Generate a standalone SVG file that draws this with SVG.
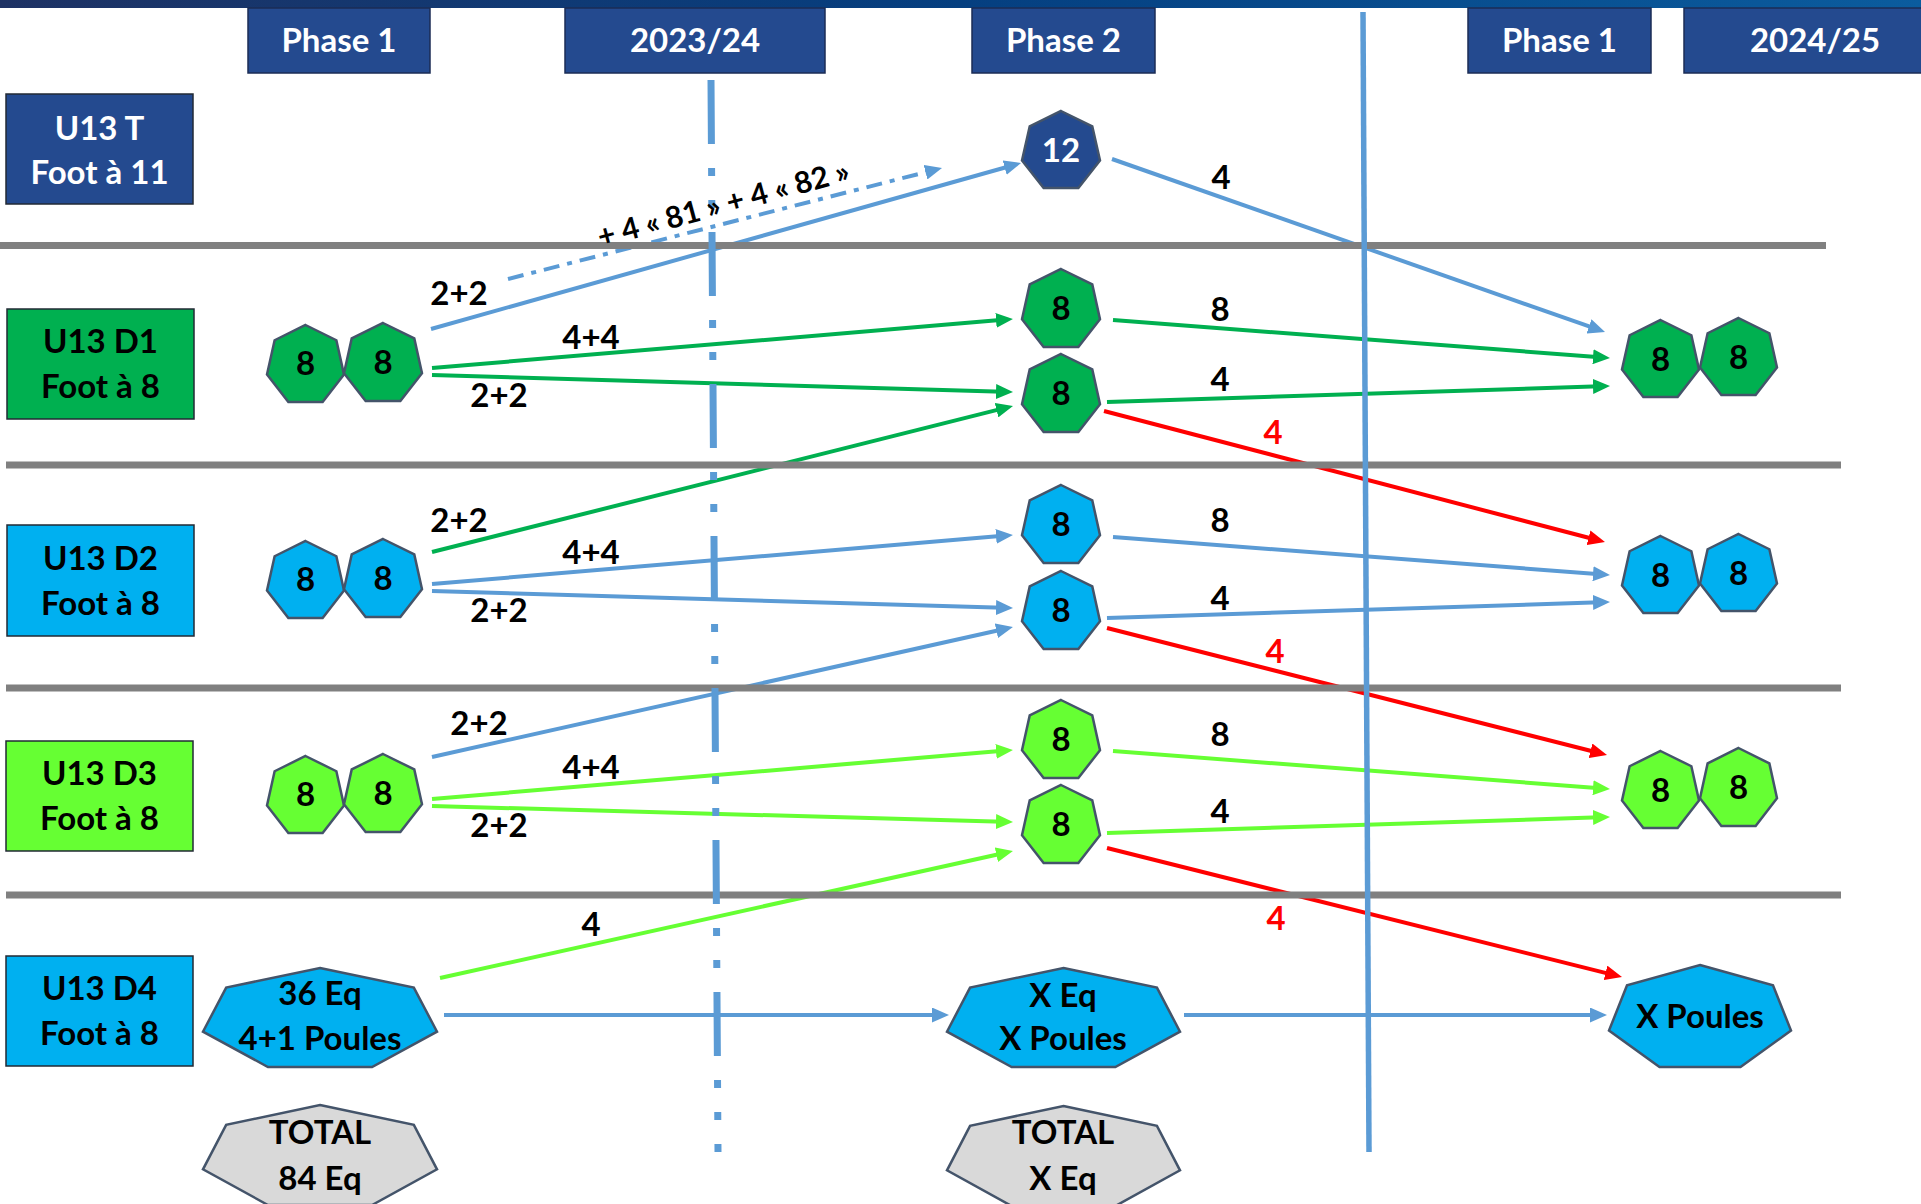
<svg xmlns="http://www.w3.org/2000/svg" xmlns:xlink="http://www.w3.org/1999/xlink" width="1921" height="1204" viewBox="0 0 1921 1204">
<defs>
  <linearGradient id="topbar" x1="0" y1="0" x2="1" y2="0">
    <stop offset="0" stop-color="#1E3264"/>
    <stop offset="0.5" stop-color="#053F80"/>
    <stop offset="1" stop-color="#0B5C9E"/>
  </linearGradient>
  <polygon id="hept" vector-effect="non-scaling-stroke" points="0.5,0 0.901,0.1981 1,0.6431 0.7225,1 0.2775,1 0,0.6431 0.099,0.1981"/>
  <marker id="ab" markerUnits="userSpaceOnUse" markerWidth="17" markerHeight="15" refX="7" refY="7.5" orient="auto"><path d="M0,0 L17,7.5 L0,15 z" fill="#5B9BD5"/></marker>
  <marker id="ag" markerUnits="userSpaceOnUse" markerWidth="17" markerHeight="15" refX="7" refY="7.5" orient="auto"><path d="M0,0 L17,7.5 L0,15 z" fill="#00B050"/></marker>
  <marker id="al" markerUnits="userSpaceOnUse" markerWidth="17" markerHeight="15" refX="7" refY="7.5" orient="auto"><path d="M0,0 L17,7.5 L0,15 z" fill="#66FF33"/></marker>
  <marker id="ar" markerUnits="userSpaceOnUse" markerWidth="17" markerHeight="15" refX="7" refY="7.5" orient="auto"><path d="M0,0 L17,7.5 L0,15 z" fill="#FF0000"/></marker>
</defs>
<style>
  .t{font-family:Lato,"Liberation Sans",sans-serif;font-weight:700;font-size:33px;text-anchor:middle;fill:#000}
  .w{fill:#FFFFFF}
  .red{fill:#FF0000}
  .rot{font-size:30px}
  .hdr{fill:#244A8F;stroke:#1B2D55;stroke-width:1.5}
  .lbl{stroke:#222A35;stroke-width:1.5}
  .sep{stroke:#808080;stroke-width:7}
  .hp{stroke:#44546A;stroke-width:2.5;stroke-linejoin:miter}
  .fdb{fill:#244A8F}
  .fg{fill:#00B050}
  .fb{fill:#00B0F0}
  .fl{fill:#66FF33}
  .fgr{fill:#D9D9D9}
  .cb{stroke:#5B9BD5;stroke-width:4;fill:none;marker-end:url(#ab)}
  .cg{stroke:#00B050;stroke-width:4;fill:none;marker-end:url(#ag)}
  .cl{stroke:#66FF33;stroke-width:4;fill:none;marker-end:url(#al)}
  .cr{stroke:#FF0000;stroke-width:4;fill:none;marker-end:url(#ar)}
  .dd{stroke-dasharray:16 8 5 8}
</style>
<rect x="0" y="0" width="1921" height="1204" fill="#FFFFFF"/>
<rect x="0" y="0" width="1921" height="8" fill="url(#topbar)"/>

<g id="headers">
  <g id="h-phase1a"><rect class="hdr" x="248" y="8" width="182" height="65"/><text class="t w" x="339" y="52">Phase 1</text></g>
  <g id="h-2023"><rect class="hdr" x="565" y="8" width="260" height="65"/><text class="t w" x="695" y="52">2023/24</text></g>
  <g id="h-phase2"><rect class="hdr" x="972" y="8" width="183" height="65"/><text class="t w" x="1063.5" y="52">Phase 2</text></g>
  <g id="h-phase1b"><rect class="hdr" x="1468" y="8" width="183" height="65"/><text class="t w" x="1559.5" y="52">Phase 1</text></g>
  <g id="h-2024"><rect class="hdr" x="1684" y="8" width="262" height="65"/><text class="t w" x="1815" y="52">2024/25</text></g>
</g>

<g id="connectors">
  <line class="cb" x1="431" y1="329" x2="1011.4" y2="165.7"/>
  <line class="cb dd" x1="508" y1="279" x2="932.3" y2="170.5"/>
  <line class="cb" x1="1112" y1="159" x2="1595.6" y2="328.7"/>
  <line class="cb" x1="432" y1="584" x2="1003" y2="535.8"/>
  <line class="cb" x1="432" y1="591" x2="1003" y2="607.7"/>
  <line class="cb" x1="432" y1="757" x2="1003.2" y2="629.2"/>
  <line class="cb" x1="1113" y1="537" x2="1600" y2="574.2"/>
  <line class="cb" x1="1107" y1="618" x2="1600" y2="602.3"/>
  <line class="cb" x1="444" y1="1015" x2="939" y2="1015"/>
  <line class="cb" x1="1184" y1="1015" x2="1597" y2="1015"/>
  <line class="cg" x1="432" y1="368" x2="1003" y2="319.8"/>
  <line class="cg" x1="432" y1="375" x2="1003" y2="391.7"/>
  <line class="cg" x1="432" y1="552" x2="1003.3" y2="408.4"/>
  <line class="cg" x1="1113" y1="320" x2="1600" y2="357.2"/>
  <line class="cg" x1="1107" y1="402" x2="1600" y2="386.3"/>
  <line class="cl" x1="432" y1="799" x2="1003" y2="750.8"/>
  <line class="cl" x1="432" y1="806" x2="1003" y2="821.7"/>
  <line class="cl" x1="440" y1="978" x2="1003.2" y2="853.2"/>
  <line class="cl" x1="1113" y1="751" x2="1600" y2="788.2"/>
  <line class="cl" x1="1107" y1="833" x2="1600" y2="817.3"/>
  <line class="cr" x1="1104" y1="411" x2="1595.3" y2="539.5"/>
  <line class="cr" x1="1107" y1="628" x2="1597.3" y2="752.5"/>
  <line class="cr" x1="1107" y1="848" x2="1612.3" y2="974.6"/>
</g>

<g id="separators">
  <line class="sep" x1="0" y1="245.5" x2="1826" y2="245.5"/>
  <line class="sep" x1="6" y1="465" x2="1841" y2="465"/>
  <line class="sep" x1="6" y1="688" x2="1841" y2="688"/>
  <line class="sep" x1="6" y1="895" x2="1841" y2="895"/>
</g>

<g id="timelines">
  <line x1="711" y1="80" x2="718" y2="1152" stroke="#5B9BD5" stroke-width="7" stroke-dasharray="64 24 8 24 8 24"/>
  <line x1="1363" y1="12" x2="1369" y2="1152" stroke="#5B9BD5" stroke-width="5.5"/>
</g>

<g id="connector-labels">
  <text class="t" x="459" y="305">2+2</text>
  <text class="t" x="591" y="349">4+4</text>
  <text class="t" x="499" y="407">2+2</text>
  <text class="t" x="459" y="532">2+2</text>
  <text class="t" x="591" y="564">4+4</text>
  <text class="t" x="499" y="622">2+2</text>
  <text class="t" x="479" y="735">2+2</text>
  <text class="t" x="591" y="779">4+4</text>
  <text class="t" x="499" y="837">2+2</text>
  <text class="t" x="591" y="936">4</text>
  <text class="t" x="1221" y="189">4</text>
  <text class="t" x="1220" y="321">8</text>
  <text class="t" x="1220" y="391">4</text>
  <text class="t red" x="1273" y="444">4</text>
  <text class="t" x="1220" y="532">8</text>
  <text class="t" x="1220" y="610">4</text>
  <text class="t red" x="1275" y="663">4</text>
  <text class="t" x="1220" y="746">8</text>
  <text class="t" x="1220" y="823">4</text>
  <text class="t red" x="1276" y="930">4</text>
  <text class="t rot" x="726" y="214" transform="rotate(-15 726 214)">+ 4 « 81 » + 4 «  82 »</text>
</g>

<g id="row-labels">
  <g id="lbl-t"><rect class="lbl" x="6" y="94" width="187" height="110" fill="#244A8F"/><text class="t w" x="99.5" y="140">U13 T</text><text class="t w" x="99.5" y="184">Foot à 11</text></g>
  <g id="lbl-d1"><rect class="lbl fg" x="7" y="309" width="187" height="110"/><text class="t" x="100.5" y="353">U13 D1</text><text class="t" x="100.5" y="398">Foot à 8</text></g>
  <g id="lbl-d2"><rect class="lbl fb" x="7" y="525" width="187" height="111"/><text class="t" x="100.5" y="570">U13 D2</text><text class="t" x="100.5" y="615">Foot à 8</text></g>
  <g id="lbl-d3"><rect class="lbl fl" x="6" y="741" width="187" height="110"/><text class="t" x="99.5" y="785">U13 D3</text><text class="t" x="99.5" y="830">Foot à 8</text></g>
  <g id="lbl-d4"><rect class="lbl fb" x="6" y="956" width="187" height="110"/><text class="t" x="99.5" y="1000">U13 D4</text><text class="t" x="99.5" y="1045">Foot à 8</text></g>
</g>

<g id="nodes">
  <g id="n-12"><use xlink:href="#hept" class="hp fdb" transform="translate(1022 111) scale(78 77)"/><text class="t w" x="1061" y="162">12</text></g>

  <g id="n-d1-l1"><use xlink:href="#hept" class="hp fg" transform="translate(267 325) scale(77 77)"/><text class="t" x="305.5" y="375">8</text></g>
  <g id="n-d1-l2"><use xlink:href="#hept" class="hp fg" transform="translate(344 323) scale(78 78)"/><text class="t" x="383" y="374">8</text></g>
  <g id="n-d1-m1"><use xlink:href="#hept" class="hp fg" transform="translate(1022 269) scale(78 78)"/><text class="t" x="1061" y="320">8</text></g>
  <g id="n-d1-m2"><use xlink:href="#hept" class="hp fg" transform="translate(1022 354) scale(78 78)"/><text class="t" x="1061" y="405">8</text></g>
  <g id="n-d1-r1"><use xlink:href="#hept" class="hp fg" transform="translate(1622 320) scale(77 77)"/><text class="t" x="1660.5" y="371">8</text></g>
  <g id="n-d1-r2"><use xlink:href="#hept" class="hp fg" transform="translate(1700 318) scale(77 77)"/><text class="t" x="1738.5" y="369">8</text></g>

  <g id="n-d2-l1"><use xlink:href="#hept" class="hp fb" transform="translate(267 541) scale(77 77)"/><text class="t" x="305.5" y="591">8</text></g>
  <g id="n-d2-l2"><use xlink:href="#hept" class="hp fb" transform="translate(344 539) scale(78 78)"/><text class="t" x="383" y="590">8</text></g>
  <g id="n-d2-m1"><use xlink:href="#hept" class="hp fb" transform="translate(1022 485) scale(78 78)"/><text class="t" x="1061" y="536">8</text></g>
  <g id="n-d2-m2"><use xlink:href="#hept" class="hp fb" transform="translate(1022 571) scale(78 78)"/><text class="t" x="1061" y="622">8</text></g>
  <g id="n-d2-r1"><use xlink:href="#hept" class="hp fb" transform="translate(1622 536) scale(77 77)"/><text class="t" x="1660.5" y="587">8</text></g>
  <g id="n-d2-r2"><use xlink:href="#hept" class="hp fb" transform="translate(1700 534) scale(77 77)"/><text class="t" x="1738.5" y="585">8</text></g>

  <g id="n-d3-l1"><use xlink:href="#hept" class="hp fl" transform="translate(267 756) scale(77 77)"/><text class="t" x="305.5" y="806">8</text></g>
  <g id="n-d3-l2"><use xlink:href="#hept" class="hp fl" transform="translate(344 754) scale(78 78)"/><text class="t" x="383" y="805">8</text></g>
  <g id="n-d3-m1"><use xlink:href="#hept" class="hp fl" transform="translate(1022 700) scale(78 78)"/><text class="t" x="1061" y="751">8</text></g>
  <g id="n-d3-m2"><use xlink:href="#hept" class="hp fl" transform="translate(1022 785) scale(78 78)"/><text class="t" x="1061" y="836">8</text></g>
  <g id="n-d3-r1"><use xlink:href="#hept" class="hp fl" transform="translate(1622 751) scale(77 77)"/><text class="t" x="1660.5" y="802">8</text></g>
  <g id="n-d3-r2"><use xlink:href="#hept" class="hp fl" transform="translate(1700 748) scale(77 78)"/><text class="t" x="1738.5" y="799">8</text></g>

  <g id="n-d4-l"><use xlink:href="#hept" class="hp fb" transform="translate(203 968) scale(234 99)"/><text class="t" x="320" y="1005">36 Eq</text><text class="t" x="320" y="1050">4+1 Poules</text></g>
  <g id="n-d4-m"><use xlink:href="#hept" class="hp fb" transform="translate(947 968) scale(233 99)"/><text class="t" x="1063" y="1007">X Eq</text><text class="t" x="1063" y="1050">X Poules</text></g>
  <g id="n-d4-r"><use xlink:href="#hept" class="hp fb" transform="translate(1609 965) scale(182 102)"/><text class="t" x="1700" y="1028">X Poules</text></g>

  <g id="n-total-l"><use xlink:href="#hept" class="hp fgr" transform="translate(203 1105) scale(234 100)"/><text class="t" x="320" y="1144">TOTAL</text><text class="t" x="320" y="1190">84 Eq</text></g>
  <g id="n-total-m"><use xlink:href="#hept" class="hp fgr" transform="translate(947 1106) scale(233 100)"/><text class="t" x="1063" y="1144">TOTAL</text><text class="t" x="1063" y="1190">X Eq</text></g>
</g>
</svg>
